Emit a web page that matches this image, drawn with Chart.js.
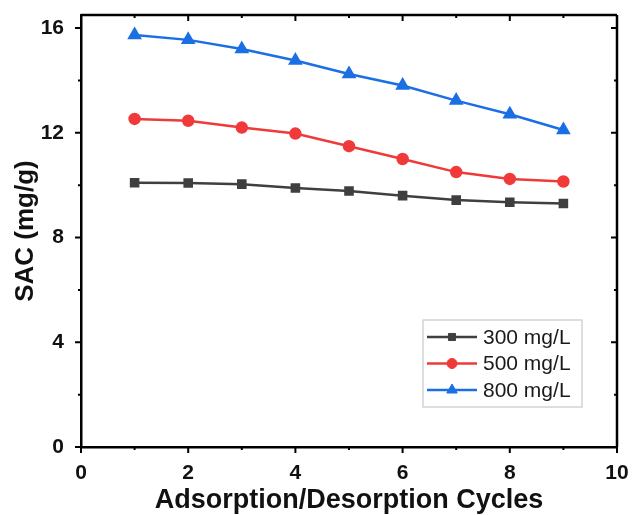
<!DOCTYPE html>
<html>
<head>
<meta charset="utf-8">
<script src="https://cdn.jsdelivr.net/npm/chart.js@4/dist/chart.umd.min.js"></script>
<style>
  html, body { margin: 0; padding: 0; background: #fff; }
  #wrap { width: 632px; height: 515px; }
</style>
</head>
<body>
<div id="wrap"><canvas id="sacChart" width="632" height="515"></canvas></div>
<script>
// data
const cycles = [1, 2, 3, 4, 5, 6, 7, 8, 9];
const sac300 = [10.09, 10.08, 10.04, 9.89, 9.78, 9.60, 9.43, 9.35, 9.30];
const sac500 = [12.53, 12.46, 12.20, 11.97, 11.49, 11.00, 10.50, 10.24, 10.14];
const sac800 = [15.74, 15.55, 15.20, 14.76, 14.25, 13.81, 13.23, 12.71, 12.11];
const seriesLabels = ['300 mg/L', '500 mg/L', '800 mg/L'];
const xTickLabels = [0, 2, 4, 6, 8, 10];
const yTickLabels = [0, 4, 8, 12, 16];

const FONT = "'Liberation Sans', Arial, sans-serif";

function pts(ys) {
    return cycles.map((c, i) => ({ x: c, y: ys[i] }));
}

// frame on top/right + major/minor tick marks (left/bottom outward, top/right inward)
const frameTicks = {
    id: 'frameTicks',
    afterDraw(chart) {
        const ctx = chart.ctx;
        const a = chart.chartArea;
        const xs = chart.scales.x, ys = chart.scales.y;
        ctx.save();
        ctx.strokeStyle = '#000';
        ctx.lineWidth = 2.5;
        ctx.beginPath();
        ctx.moveTo(a.left, a.top); ctx.lineTo(a.right, a.top);
        ctx.moveTo(a.right, a.top); ctx.lineTo(a.right, a.bottom);
        ctx.stroke();
        ctx.lineWidth = 2;
        ctx.beginPath();
        xs.ticks.forEach(t => {
            const px = xs.getPixelForValue(t.value);
            const len = xTickLabels.includes(t.value) ? 6 : 3;
            ctx.moveTo(px, a.bottom); ctx.lineTo(px, a.bottom + len);
            ctx.moveTo(px, a.top); ctx.lineTo(px, a.top + len);
        });
        ys.ticks.forEach(t => {
            const py = ys.getPixelForValue(t.value);
            const len = yTickLabels.includes(t.value) ? 6 : 3;
            ctx.moveTo(a.left, py); ctx.lineTo(a.left - len, py);
            ctx.moveTo(a.right, py); ctx.lineTo(a.right - len, py);
        });
        ctx.stroke();
        ctx.restore();
    }
};

// boxed legend with line + marker, bottom right inside the plot
const boxLegend = {
    id: 'boxLegend',
    afterDraw(chart) {
        const ctx = chart.ctx;
        const a = chart.chartArea;
        const w = 159, h = 87, rowH = 26.5;
        const x0 = a.right - 35 - w, y0 = a.bottom - 40 - h;
        ctx.save();
        ctx.strokeStyle = '#c8c8c8';
        ctx.lineWidth = 1.2;
        ctx.fillStyle = '#fff';
        ctx.fillRect(x0, y0, w, h);
        ctx.strokeRect(x0, y0, w, h);
        ctx.font = '21px ' + FONT;
        ctx.textBaseline = 'middle';
        chart.data.datasets.forEach((ds, i) => {
            const cy = y0 + 17 + i * rowH;
            ctx.strokeStyle = ds.borderColor;
            ctx.fillStyle = ds.backgroundColor;
            ctx.lineWidth = 2.5;
            ctx.beginPath();
            ctx.moveTo(x0 + 4, cy); ctx.lineTo(x0 + 54, cy);
            ctx.stroke();
            ctx.lineWidth = 1;
            Chart.helpers.drawPoint(ctx, {
                pointStyle: ds.pointStyle,
                radius: ds.pointRadius,
                borderWidth: 1
            }, x0 + 29, cy);
            ctx.fillStyle = '#1a1a1a';
            ctx.fillText(ds.label, x0 + 60, cy + 1);
        });
        ctx.restore();
    }
};

const colors = ['#3f3f3f', '#f03a3a', '#1a6fe3'];
const styles = ['rect', 'circle', 'triangle'];
const radii = [5, 5, 6];
const values = [sac300, sac500, sac800];

new Chart(document.getElementById('sacChart').getContext('2d'), {
    type: 'line',
    data: {
        datasets: values.map((v, i) => ({
            label: seriesLabels[i],
            data: pts(v),
            borderColor: colors[i],
            backgroundColor: colors[i],
            pointBackgroundColor: colors[i],
            pointBorderColor: colors[i],
            pointStyle: styles[i],
            pointRadius: radii[i],
            borderWidth: 2.5,
            tension: 0
        }))
    },
    options: {
        responsive: false,
        animation: false,
        layout: { padding: { top: 15, right: 15, left: 0, bottom: 0 } },
        plugins: {
            legend: { display: false },
            tooltip: { enabled: false }
        },
        scales: {
            x: {
                type: 'linear', min: 0, max: 10,
                grid: { display: false },
                border: { display: true, color: '#000', width: 2.5 },
                ticks: {
                    autoSkip: false, padding: 6, color: '#111', maxRotation: 0,
                    font: { family: FONT, size: 21, weight: 'bold' },
                    callback: v => xTickLabels.includes(v) ? String(v) : ''
                },
                title: {
                    display: true, text: 'Adsorption/Desorption Cycles', color: '#111',
                    font: { family: FONT, size: 27, weight: 'bold', lineHeight: 1.1 },
                    padding: { top: 0, bottom: 0 }
                },
                afterBuildTicks: s => {
                    const t = [];
                    for (let v = 0; v <= 10; v++) t.push({ value: v });
                    s.ticks = t;
                },
                afterFit: s => { s.height = 68; s.paddingLeft = 0; s.paddingRight = 0; }
            },
            y: {
                type: 'linear', min: 0, max: 16.5,
                grid: { display: false },
                border: { display: true, color: '#000', width: 2.5 },
                ticks: {
                    autoSkip: false, padding: 9, color: '#111',
                    font: { family: FONT, size: 21, weight: 'bold' },
                    callback: v => yTickLabels.includes(v) ? String(v) : ''
                },
                title: {
                    display: true, text: 'SAC (mg/g)', color: '#111',
                    font: { family: FONT, size: 26, weight: 'bold' },
                    padding: { top: 10, bottom: 0 }
                },
                afterBuildTicks: s => {
                    const t = [];
                    for (let v = 0; v <= 16; v += 2) t.push({ value: v });
                    s.ticks = t;
                },
                afterFit: s => { s.width = 81; s.paddingTop = 0; s.paddingBottom = 0; }
            }
        }
    },
    plugins: [frameTicks, boxLegend]
});
</script>
</body>
</html>
